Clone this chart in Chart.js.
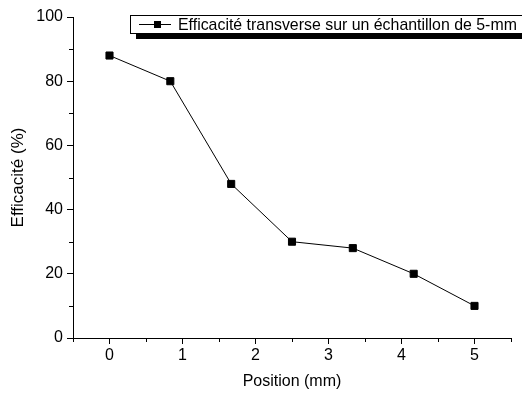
<!DOCTYPE html>
<html>
<head>
<meta charset="utf-8">
<script src="https://cdn.jsdelivr.net/npm/chart.js@4"></script>
<style>
  html, body { margin: 0; padding: 0; background: #fff; }
  #wrap { width: 522px; height: 395px; position: relative; }
</style>
</head>
<body>
<div id="wrap"><canvas id="myChart" width="522" height="395"></canvas></div>
<script>
// data
const positions = [0, 0.833, 1.667, 2.5, 3.333, 4.167, 5];
const efficacite = [88, 80, 48, 30, 28, 20, 10];
const xTicks = [0, 1, 2, 3, 4, 5];
const yTicks = [0, 20, 40, 60, 80, 100];
const xMinor = [-0.5, 0.5, 1.5, 2.5, 3.5, 4.5, 5.5];
const yMinor = [10, 30, 50, 70, 90];
const seriesLabel = 'Efficacité transverse sur un échantillon de 5-mm';

const font = 'Liberation Sans, Arial, sans-serif';

// minor ticks + legend box with shadow
const extras = {
	id: 'extras',
	afterDraw(chart) {
		const c = chart.ctx;
		const x = chart.scales.x, y = chart.scales.y;
		c.save();
		c.strokeStyle = '#000';
		c.lineWidth = 1;
		c.beginPath();
		xMinor.forEach(v => {
			let px = Math.round(x.getPixelForValue(v)) + 0.5;
			c.moveTo(px, y.bottom);
			c.lineTo(px, y.bottom + 4);
		});
		yMinor.forEach(v => {
			let py = Math.round(y.getPixelForValue(v)) + 0.5;
			c.moveTo(x.left, py);
			c.lineTo(x.left - 4, py);
		});
		c.stroke();

		// legend
		let lx = 130, ly = 15, lw = 400, lh = 18;
		c.fillStyle = '#000';
		c.fillRect(lx + 6, ly + lh, lw, 6);
		c.fillStyle = '#fff';
		c.fillRect(lx, ly, lw, lh);
		c.strokeStyle = '#000';
		c.strokeRect(lx + 0.5, ly + 0.5, lw, lh);
		let my = ly + lh / 2 + 0.5;
		c.beginPath();
		c.moveTo(lx + 9, my);
		c.lineTo(lx + 41, my);
		c.stroke();
		c.fillStyle = '#000';
		c.fillRect(lx + 24, my - 3.5, 7, 7);
		c.font = '15.9px ' + font;
		c.textBaseline = 'middle';
		c.fillText(seriesLabel, lx + 48, my + 1);
		c.restore();
	}
};

const ctx = document.getElementById('myChart');

new Chart(ctx, {
	type: 'scatter',
	data: {
		datasets: [{
			label: seriesLabel,
			data: positions.map((p, i) => ({ x: p, y: efficacite[i] })),
			showLine: true,
			borderColor: '#000',
			borderWidth: 1,
			backgroundColor: '#000',
			pointStyle: 'rect',
			pointRadius: 5,
			pointHoverRadius: 5
		}]
	},
	options: {
		responsive: false,
		animation: false,
		events: [],
		layout: { padding: { top: 17, right: 11, left: 0, bottom: 0 } },
		plugins: { legend: { display: false }, tooltip: { enabled: false } },
		scales: {
			x: {
				type: 'linear',
				min: -0.5,
				max: 5.5,
				afterBuildTicks: (s) => { s.ticks = xTicks.map(v => ({ value: v })); },
				afterFit: (s) => { s.height = 57; },
				grid: { drawOnChartArea: false, tickLength: 6, color: '#000' },
				border: { color: '#000', width: 1 },
				ticks: { color: '#000', font: { family: font, size: 16 }, padding: 2, maxRotation: 0 },
				title: { display: true, text: 'Position (mm)', color: '#000', font: { family: font, size: 16 }, padding: { top: 0 } }
			},
			y: {
				min: 0,
				max: 100,
				afterBuildTicks: (s) => { s.ticks = yTicks.map(v => ({ value: v })); },
				afterFit: (s) => { s.width = 73; },
				grid: { drawOnChartArea: false, tickLength: 6, color: '#000' },
				border: { color: '#000', width: 1 },
				ticks: { color: '#000', font: { family: font, size: 16 }, padding: 4 },
				title: { display: true, text: 'Efficacité (%)', color: '#000', font: { family: font, size: 17 }, padding: { top: 8, bottom: 4 } }
			}
		}
	},
	plugins: [extras]
});
</script>
</body>
</html>
